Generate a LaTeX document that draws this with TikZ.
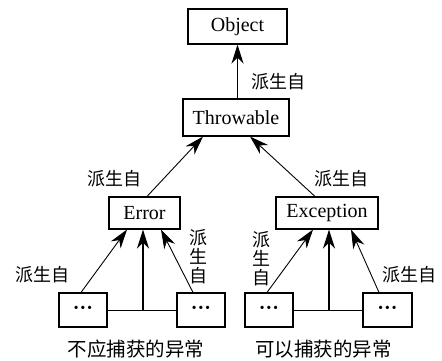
\documentclass[tikz,border=0pt]{standalone}
\usepackage{fontspec}
\setmainfont{Liberation Serif}
\newfontfamily\cjk{Noto Sans CJK SC}
\usetikzlibrary{arrows.meta,calc}
\begin{document}
\begin{tikzpicture}[x=1pt,y=-1pt,
  box/.style={draw,line width=1.1pt,inner sep=0pt,font=\fontsize{20}{22}\selectfont},
  arr/.style={line width=0.9pt,-{Stealth[length=19pt,width=12pt,inset=6pt]}},
  lbl/.style={font=\cjk\fontsize{18}{19}\selectfont,inner sep=0pt,align=center},
  captxt/.style={font=\cjk\fontsize{19.5}{22}\selectfont,inner sep=0pt}]
\useasboundingbox (0,0) rectangle (442,361);
\node[box,minimum width=99pt,minimum height=35pt] (obj) at (237.5,26.5) {Object};
\node[box,minimum width=106pt,minimum height=37pt] (thr) at (236,117.5) {Throwable};
\node[box,minimum width=71pt,minimum height=32pt] (err) at (144.5,213) {Error};
\node[box,minimum width=102pt,minimum height=32pt] (exc) at (327,213) {Exception};
\node[box,minimum width=48pt,minimum height=34pt] (d1) at (83,310) {\textbf{···}};
\node[box,minimum width=48pt,minimum height=34pt] (d2) at (201,310) {\textbf{···}};
\node[box,minimum width=48pt,minimum height=34pt] (d3) at (269,310) {\textbf{···}};
\node[box,minimum width=49pt,minimum height=34pt] (d4) at (387.5,310) {\textbf{···}};
% junctions
\coordinate (jl) at (143,310);
\coordinate (jr) at (329,310);
% connectors
\draw[arr,line width=1.3pt] (thr.north -| obj.south) -- (obj.south);
\draw[arr] ([xshift=2.5pt]err.north) -- ([xshift=-33pt]thr.south);
\draw[arr] ([xshift=-12pt]exc.north) -- ([xshift=14pt]thr.south);
\draw[line width=0.9pt] (d1.east) -- (d2.west);
\draw[line width=0.9pt] (d3.east) -- (d4.west);
\draw[arr,line width=1.2pt] (jl) -- (jl |- err.south);
\draw[arr,line width=1.2pt] (jr) -- (jr |- exc.south);
\draw[arr] ([xshift=-2pt]d1.north) -- ([xshift=-17.5pt]err.south);
\draw[arr] ([xshift=-8pt]d2.north) -- ([xshift=16.5pt]err.south);
\draw[arr] ([xshift=-2pt]d3.north) -- ([xshift=-14pt]exc.south);
\draw[arr] ([xshift=-8.5pt]d4.north) -- ([xshift=24pt]exc.south);
% labels
\node[lbl] (l1) at (278,82) {派生自};
\node[lbl] (l2) at (114,179) {派生自};
\node[lbl] (l3) at (341,179) {派生自};
\node[lbl] (l4) at (43,275) {派生自};
\node[lbl] (l5) at (409.5,275) {派生自};
\node[lbl] (l6) at (198,257) {派\\生\\自};
\node[lbl] (l7) at (261,259) {派\\生\\自};
\node[captxt] (c1) at (136,349) {不应捕获的异常};
\node[captxt] (c2) at (323.5,349) {可以捕获的异常};
\end{tikzpicture}
\end{document}
